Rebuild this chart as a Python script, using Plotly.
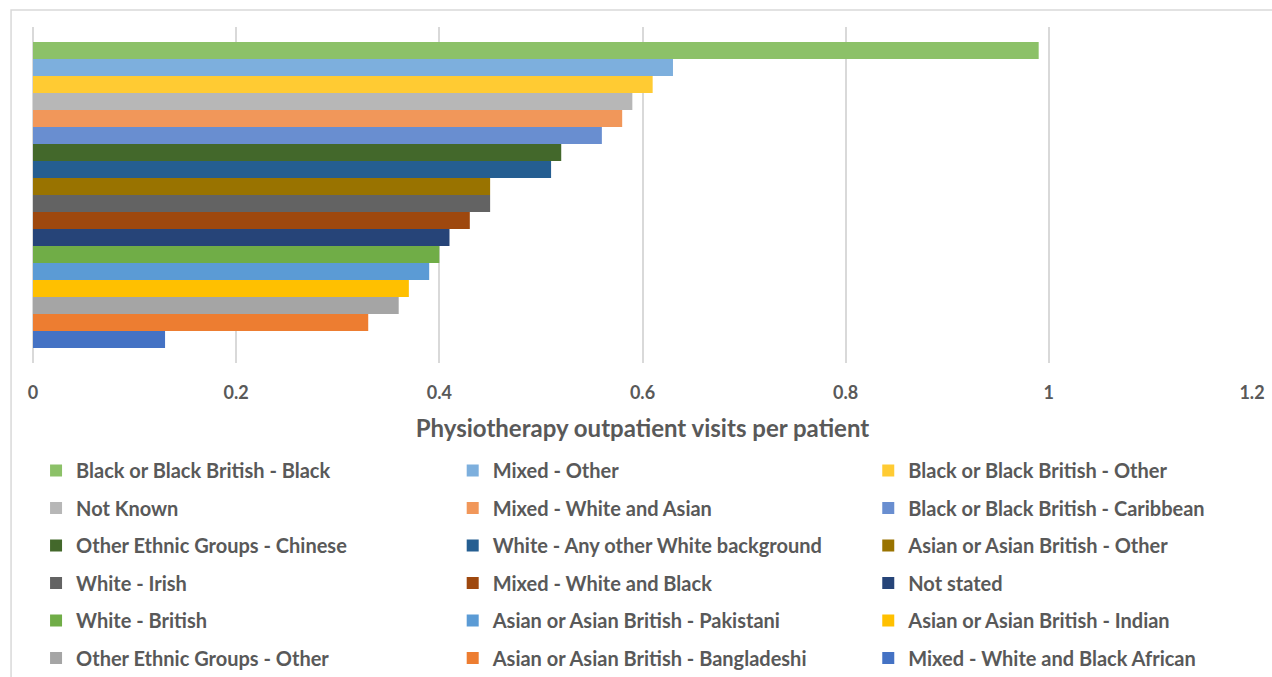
import plotly.graph_objects as go

ethnic_groups = [
    "Black or Black British - Black",
    "Mixed - Other",
    "Black or Black British - Other",
    "Not Known",
    "Mixed - White and Asian",
    "Black or Black British - Caribbean",
    "Other Ethnic Groups - Chinese",
    "White - Any other White background",
    "Asian or Asian British - Other",
    "White - Irish",
    "Mixed - White and Black",
    "Not stated",
    "White - British",
    "Asian or Asian British - Pakistani",
    "Asian or Asian British - Indian",
    "Other Ethnic Groups - Other",
    "Asian or Asian British - Bangladeshi",
    "Mixed - White and Black African",
]
visits_per_patient = [0.99, 0.63, 0.61, 0.59, 0.58, 0.56, 0.52, 0.51, 0.45,
                      0.45, 0.43, 0.41, 0.40, 0.39, 0.37, 0.36, 0.33, 0.13]

colors = ["#8CC168", "#7DAFDD", "#FFCB33", "#B7B7B7", "#F1975A", "#698ED0",
          "#43682B", "#255E91", "#997300", "#636363", "#9E480E", "#264478",
          "#70AD47", "#5B9BD5", "#FFC000", "#A5A5A5", "#ED7D31", "#4472C4"]

FONT = "Lato"
GREY = "#595959"

fig = go.Figure()
for i, (name, val) in enumerate(zip(ethnic_groups, visits_per_patient)):
    col = i % 3
    fig.add_trace(go.Bar(
        x=[val], y=["all"], name=name, orientation="h",
        marker=dict(color=colors[i], line=dict(width=0)),
        legend="legend" if col == 0 else f"legend{col + 1}",
        legendgroup=name,
    ))

# Excel-style 3-column legend: one vertical legend per column
col_x = [0.0025, 0.3443, 0.6852]
legends = {}
for c, x in enumerate(col_x):
    key = "legend" if c == 0 else f"legend{c + 1}"
    legends[key] = dict(
        orientation="v", x=x, xanchor="left", y=-0.5997, yanchor="middle",
        traceorder="grouped", tracegroupgap=8.5,
        font=dict(family=FONT, size=20, color=GREY, weight="bold"),
        bgcolor="rgba(0,0,0,0)", borderwidth=0,
    )

fig.update_layout(
    width=1272, height=677,
    margin=dict(l=33, r=20, t=27, b=314, autoexpand=False),
    paper_bgcolor="white", plot_bgcolor="white",
    barmode="group", bargap=0.09,
    font=dict(family=FONT, color=GREY),
    xaxis=dict(
        range=[0, 1.2], dtick=0.2, tickformat="~g",
        showgrid=True, gridcolor="#D9D9D9", gridwidth=1.5,
        zeroline=True, zerolinecolor="#D9D9D9", zerolinewidth=1.5,
        showline=False, ticks="", ticklabelstandoff=17,
        tickfont=dict(family=FONT, size=18, color=GREY, weight="bold"),
        title=dict(text="Physiotherapy outpatient visits per patient",
                   font=dict(family=FONT, size=24, color=GREY, weight="bold"),
                   standoff=18),
    ),
    yaxis=dict(autorange="reversed", showticklabels=False, showgrid=False,
               zeroline=False, ticks=""),
    shapes=[dict(type="rect", xref="paper", yref="paper",
                 x0=-0.018, x1=1.02, y0=-0.95, y1=1.0506,
                 line=dict(color="#D9D9D9", width=1.5), layer="below")],
    **legends,
)

fig.write_html("out.html", config={"displayModeBar": False},
               post_script="document.body.style.margin = '0';")
